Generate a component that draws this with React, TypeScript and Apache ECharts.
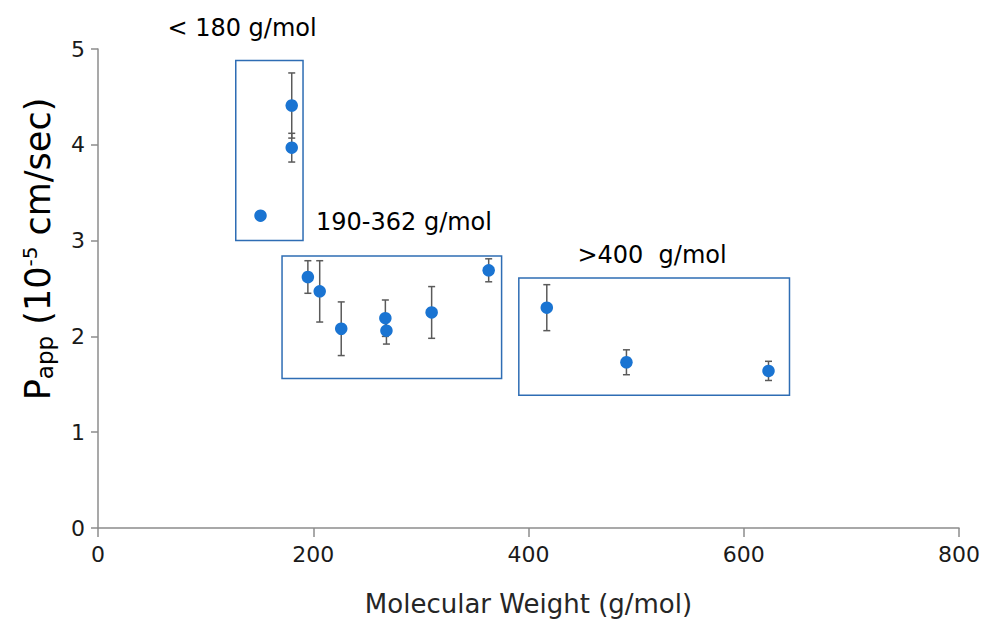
import React, { useEffect, useRef } from "react";
import * as echarts from "echarts";

// Molecular weight (g/mol)
const mw = [151, 180, 180, 195, 206, 226, 267, 268, 310, 363, 417, 491, 623];
// Papp (1e-5 cm/sec)
const papp = [3.26, 4.41, 3.97, 2.62, 2.47, 2.08, 2.19, 2.06, 2.25, 2.69, 2.3, 1.73, 1.64];
// error (± SD)
const errs = [0, 0.34, 0.15, 0.17, 0.32, 0.28, 0.19, 0.14, 0.27, 0.12, 0.24, 0.13, 0.1];

// grouping boxes: [xMin, yMax, xMax, yMin]
const boxes = [
  [128, 4.88, 190.5, 3.0],
  [171, 2.84, 375, 1.56],
  [391, 2.61, 642.5, 1.385],
];
const boxLabels = ["< 180 g/mol", "190-362 g/mol", ">400  g/mol"];

const xTicks = [0, 200, 400, 600, 800];
const yTicks = [0, 1, 2, 3, 4, 5];

const FONT = "DejaVu Sans";
const BLUE = "#1A74D2";
const BOX = "#2E6DB4";

export default function App() {
  const ref = useRef<HTMLDivElement>(null);
  useEffect(() => {
    if (!ref.current) return;
    const chart = echarts.init(ref.current, undefined, { renderer: "svg" });
    const pts = mw.map((x, i) => [x, papp[i], errs[i]]);
    chart.setOption({
      animation: false,
      backgroundColor: "#ffffff",
      grid: { left: 98, right: 23, top: 49, bottom: 91, containLabel: false, outerBoundsMode: "none" },
      xAxis: {
        type: "value",
        min: xTicks[0],
        max: xTicks[xTicks.length - 1],
        interval: 200,
        axisLine: { show: true, lineStyle: { color: "#8c8c8c", width: 1.5 } },
        axisTick: { show: true, length: 9, lineStyle: { color: "#8c8c8c", width: 1.5 } },
        splitLine: { show: false },
        axisLabel: { fontFamily: FONT, fontSize: 22, color: "#1a1a1a", margin: 15 },
        name: "Molecular Weight (g/mol)",
        nameLocation: "middle",
        nameGap: 63,
        nameTextStyle: { fontFamily: FONT, fontSize: 26, color: "#262626" },
      },
      yAxis: {
        type: "value",
        min: yTicks[0],
        max: yTicks[yTicks.length - 1],
        interval: 1,
        axisLine: { show: true, lineStyle: { color: "#8c8c8c", width: 1.5 } },
        axisTick: { show: true, length: 7, lineStyle: { color: "#8c8c8c", width: 1.5 } },
        splitLine: { show: false },
        axisLabel: { fontFamily: FONT, fontSize: 22, color: "#1a1a1a", margin: 13 },
      },
      graphic: [
        {
          type: "text",
          x: 38,
          y: 249,
          rotation: Math.PI / 2,
          style: {
            text: "{p|P}{s|app}{n| (10}{sup|-5}{n| cm/sec)}",
            align: "center",
            verticalAlign: "middle",
            fill: "#000",
            rich: {
              p: { fontFamily: FONT, fontSize: 35, fill: "#000", verticalAlign: "middle" },
              n: { fontFamily: FONT, fontSize: 35, fill: "#000", verticalAlign: "middle" },
              s: { fontFamily: FONT, fontSize: 23, fill: "#000", verticalAlign: "bottom", padding: [13, 0, 0, 0] },
              sup: { fontFamily: FONT, fontSize: 20, fill: "#000", verticalAlign: "top", padding: [0, 0, 15, 0] },
            },
          },
        },
        {
          type: "text",
          x: 242,
          y: 28,
          style: { text: boxLabels[0], fontFamily: FONT, fontSize: 24, fill: "#000", align: "center", verticalAlign: "middle" },
        },
        {
          type: "text",
          x: 404,
          y: 222,
          style: { text: boxLabels[1], fontFamily: FONT, fontSize: 24, fill: "#000", align: "center", verticalAlign: "middle" },
        },
        {
          type: "text",
          x: 652,
          y: 255,
          style: { text: boxLabels[2], fontFamily: FONT, fontSize: 24, fill: "#000", align: "center", verticalAlign: "middle" },
        },
      ],
      series: [
        {
          type: "custom",
          z: 1,
          data: pts,
          encode: { x: 0, y: 1 },
          renderItem: (params: any, api: any) => {
            const x = api.value(0);
            const y = api.value(1);
            const e = api.value(2);
            if (!e) return null;
            const top = api.coord([x, y + e]);
            const bot = api.coord([x, y - e]);
            const st = { stroke: "#5a5a5a", lineWidth: 1.5 };
            const c = 3.5;
            return {
              type: "group",
              children: [
                { type: "line", shape: { x1: top[0], y1: top[1], x2: bot[0], y2: bot[1] }, style: st },
                { type: "line", shape: { x1: top[0] - c, y1: top[1], x2: top[0] + c, y2: top[1] }, style: st },
                { type: "line", shape: { x1: bot[0] - c, y1: bot[1], x2: bot[0] + c, y2: bot[1] }, style: st },
              ],
            };
          },
        },
        {
          type: "scatter",
          z: 3,
          data: pts.map((p) => [p[0], p[1]]),
          symbol: "circle",
          symbolSize: 12.5,
          itemStyle: { color: BLUE, opacity: 1 },
          markArea: {
            silent: true,
            itemStyle: { color: "rgba(0,0,0,0)", borderColor: BOX, borderWidth: 1.5 },
            label: { show: false },
            data: boxes.map((b) => [{ coord: [b[0], b[1]] }, { coord: [b[2], b[3]] }]),
          },
        },
      ],
    });
    return () => chart.dispose();
  }, []);
  return (
    <div
      ref={ref}
      style={{ position: "absolute", left: 0, top: 0, width: 982, height: 619 }}
    />
  );
}
